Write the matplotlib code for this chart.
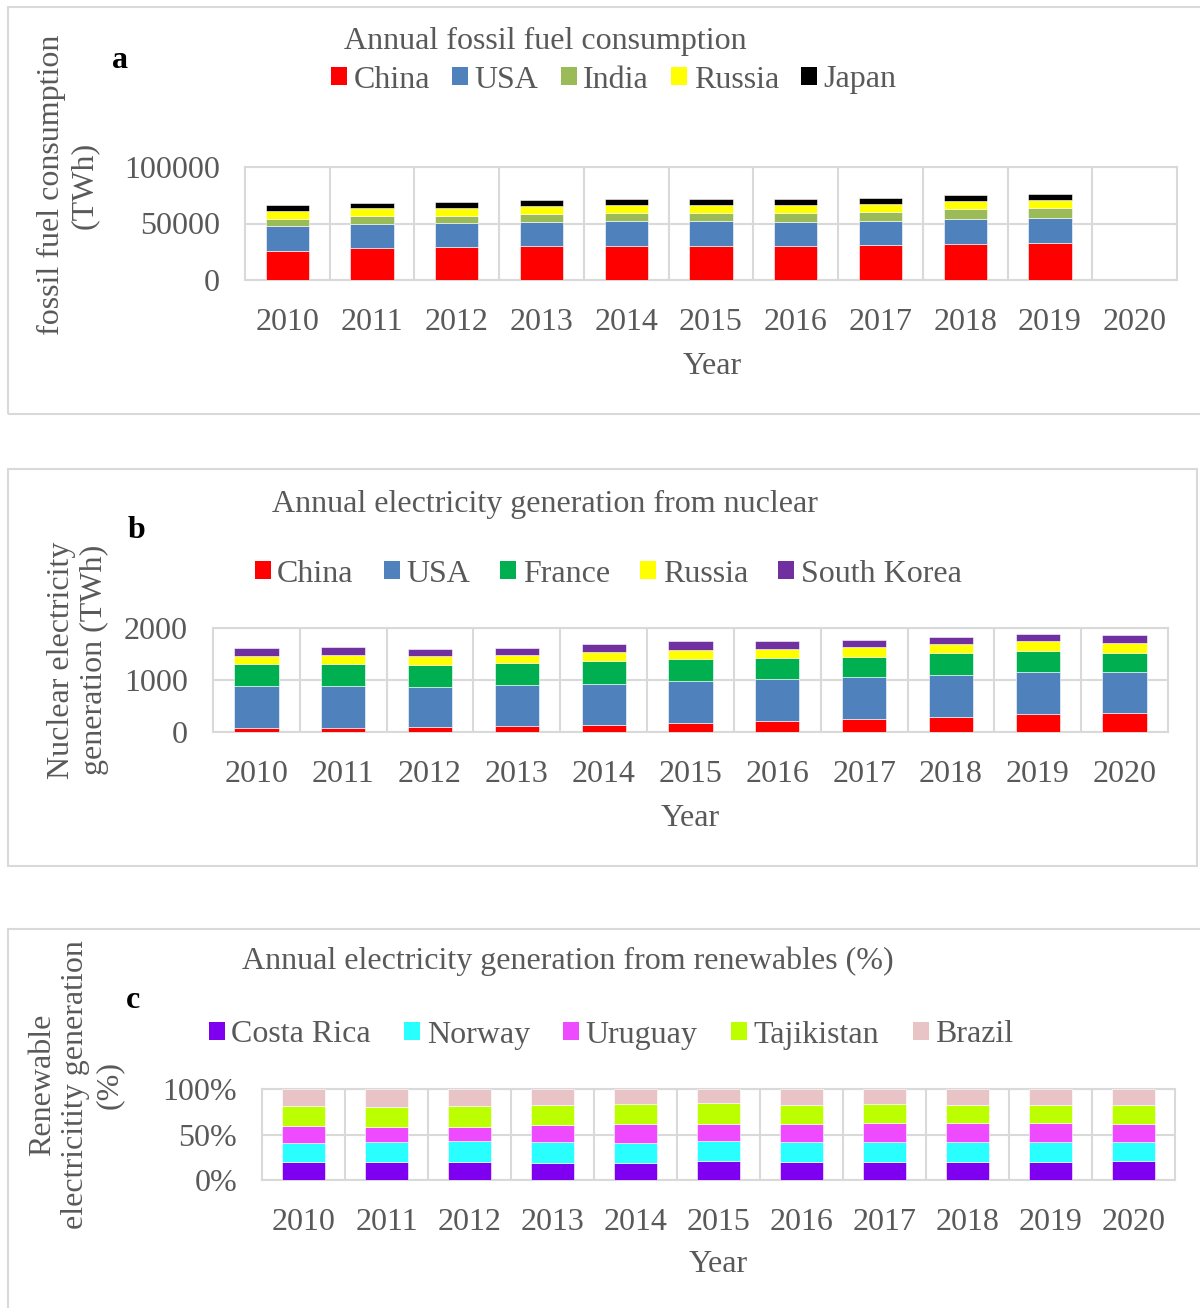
import matplotlib.pyplot as plt
import numpy as np
from matplotlib.patches import Rectangle, Patch
from matplotlib.ticker import FuncFormatter

plt.rcParams['font.family'] = ['Liberation Serif', 'DejaVu Serif']

years = ['2010', '2011', '2012', '2013', '2014', '2015',
         '2016', '2017', '2018', '2019', '2020']

# a: fossil fuel consumption (TWh)
fossil_names = ['China', 'USA', 'India', 'Russia', 'Japan']
china_fossil = [25800, 28200, 28800, 30000, 30300, 30300, 30300, 30900, 31800, 32900, 0]
usa_fossil = [22100, 21800, 21500, 21400, 22000, 21700, 21100, 21400, 22300, 22100, 0]
india_fossil = [5900, 6200, 6400, 7100, 7100, 7400, 8000, 8000, 8500, 8800, 0]
russia_fossil = [7300, 7300, 7400, 7000, 7000, 7000, 7000, 7300, 7300, 7400, 0]
japan_fossil = [5000, 5000, 5300, 5700, 5300, 5000, 5000, 4700, 5100, 4700, 0]
fossil_colors = ['#FF0000', '#4F81BD', '#9BBB59', '#FFFF00', '#000000']

# b: nuclear electricity generation (TWh)
nuclear_names = ['China', 'USA', 'France', 'Russia', 'South Korea']
china_nuc = [70, 83, 96, 108, 127, 166, 204, 242, 280, 337, 357]
usa_nuc = [809, 796, 764, 790, 802, 809, 809, 809, 816, 822, 790]
france_nuc = [433, 433, 433, 426, 433, 426, 408, 389, 414, 396, 363]
russia_nuc = [153, 172, 165, 160, 172, 179, 178, 191, 184, 191, 197]
korea_nuc = [146, 146, 140, 133, 153, 166, 160, 147, 128, 147, 159]
nuclear_colors = ['#FF0000', '#4F81BD', '#00B050', '#FFFF00', '#7030A0']

# c: renewable electricity shares (stacked to 100 %)
renew_names = ['Costa Rica', 'Norway', 'Uruguay', 'Tajikistan', 'Brazil']
costa_ren = [19.6, 19.6, 20.3, 18.5, 18.5, 20.7, 19.6, 20.3, 19.6, 19.9, 20.7]
norway_ren = [21.0, 21.7, 22.9, 22.8, 22.5, 21.7, 21.7, 21.4, 21.7, 21.8, 21.4]
uruguay_ren = [18.8, 16.6, 14.7, 18.8, 20.6, 19.6, 20.7, 21.0, 21.1, 20.7, 19.9]
tajik_ren = [22.1, 22.2, 22.9, 22.6, 22.2, 22.1, 20.7, 20.7, 19.9, 19.9, 20.3]
brazil_ren = [18.5, 19.9, 19.2, 17.3, 16.2, 15.9, 17.3, 16.6, 17.7, 17.7, 17.7]
renew_colors = ['#7F00F0', '#29FFFF', '#EE4AFF', '#BBFF00', '#E8C4C6']

W, H = 1200, 1308
TXT = '#595959'
GRID = '#D9D9D9'
FS = 23

fig = plt.figure(figsize=(W / 100, H / 100), dpi=100)


def px(x, y):
    return x / W, 1 - y / H


def add_axes(l, r, t, b):
    return fig.add_axes([l / W, 1 - b / H, (r - l) / W, (b - t) / H])


def stacked(ax, series, colors, ymax, yticks, fmt):
    x = np.arange(len(years))
    bottom = np.zeros(len(years))
    for vals, c in zip(series, colors):
        vals = np.asarray(vals, dtype=float)
        ax.bar(x, vals, 0.51, bottom=bottom, color=c, edgecolor='white',
               linewidth=0.4, zorder=3)
        bottom += vals
    ax.set_xlim(-0.5, len(years) - 0.5)
    ax.set_ylim(0, ymax)
    ax.set_yticks(yticks)
    ax.yaxis.set_major_formatter(FuncFormatter(fmt))
    ax.set_xticks(x)
    ax.set_xticklabels(years)
    ax.set_xticks(x[:-1] + 0.5, minor=True)
    ax.grid(axis='y', which='major', color=GRID, lw=1.5, zorder=0)
    ax.grid(axis='x', which='minor', color=GRID, lw=1.5, zorder=0)
    ax.tick_params(which='both', length=0, labelsize=FS, colors=TXT)
    ax.tick_params(axis='x', pad=20)
    ax.tick_params(axis='y', pad=18)
    for s in ax.spines.values():
        s.set_color(GRID)
        s.set_linewidth(1.5)


def panel_box(t, b, r=1240):
    fig.add_artist(Rectangle(px(8, b), (r - 8) / W, (b - t) / H,
                             transform=fig.transFigure, fill=False,
                             edgecolor=GRID, lw=1.5))


def legend(names, colors, cx, cy, spacing):
    handles = [Patch(facecolor=c, edgecolor='none') for c in colors]
    fig.legend(handles, names, loc='center', bbox_to_anchor=px(cx, cy),
               ncol=len(names), frameon=False, fontsize=FS, labelcolor=TXT,
               handlelength=0.5, handleheight=0.5, handletextpad=0.2,
               columnspacing=spacing, borderaxespad=0, borderpad=0)


# ---- a ----
panel_box(7, 414)
ax_a = add_axes(245, 1177, 167, 280)
stacked(ax_a, [china_fossil, usa_fossil, india_fossil, russia_fossil, japan_fossil],
        fossil_colors, 100000, [0, 50000, 100000], lambda v, p: f'{v:.0f}')
fig.text(*px(545, 41), 'Annual fossil fuel consumption', fontsize=FS, color=TXT,
         ha='center', va='center')
legend(fossil_names, fossil_colors, 614, 80, 0.7)
fig.text(*px(120, 60), 'a', fontsize=FS, fontweight='bold', ha='center', va='center')
fig.text(*px(68, 185), 'fossil fuel consumption\n(TWh)', fontsize=FS, color=TXT,
         rotation=90, ha='center', va='center', linespacing=1.2)
fig.text(*px(712, 366), 'Year', fontsize=FS, color=TXT, ha='center', va='center')

# ---- b ----
panel_box(469, 866, r=1197)
ax_b = add_axes(213, 1168, 628, 732)
stacked(ax_b, [china_nuc, usa_nuc, france_nuc, russia_nuc, korea_nuc],
        nuclear_colors, 2000, [0, 1000, 2000], lambda v, p: f'{v:.0f}')
fig.text(*px(545, 504), 'Annual electricity generation from nuclear', fontsize=FS,
         color=TXT, ha='center', va='center')
legend(nuclear_names, nuclear_colors, 608, 574, 0.95)
fig.text(*px(137, 531), 'b', fontsize=FS, fontweight='bold', ha='center', va='center')
fig.text(*px(78, 660), 'Nuclear electricity\ngeneration (TWh)', fontsize=FS,
         color=TXT, rotation=90, ha='center', va='center', linespacing=1.2)
fig.text(*px(690, 818), 'Year', fontsize=FS, color=TXT, ha='center', va='center')

# ---- c ----
panel_box(929, 1340)
ax_c = add_axes(262, 1175, 1089, 1180)
ren = np.array([costa_ren, norway_ren, uruguay_ren, tajik_ren, brazil_ren])
ren_pct = ren / ren.sum(axis=0) * 100
stacked(ax_c, list(ren_pct), renew_colors, 100, [0, 50, 100],
        lambda v, p: f'{v:.0f}%')
fig.text(*px(568, 961), 'Annual electricity generation from renewables (%)',
         fontsize=FS, color=TXT, ha='center', va='center')
legend(renew_names, renew_colors, 611, 1035, 1.05)
fig.text(*px(133, 1000), 'c', fontsize=FS, fontweight='bold', ha='center', va='center')
fig.text(*px(76, 1085), 'Renewable\nelectricitity generation\n(%)', fontsize=FS,
         color=TXT, rotation=90, ha='center', va='center', linespacing=1.2)
fig.text(*px(718, 1265), 'Year', fontsize=FS, color=TXT, ha='center', va='center')

fig.savefig('out.png', dpi=100)
